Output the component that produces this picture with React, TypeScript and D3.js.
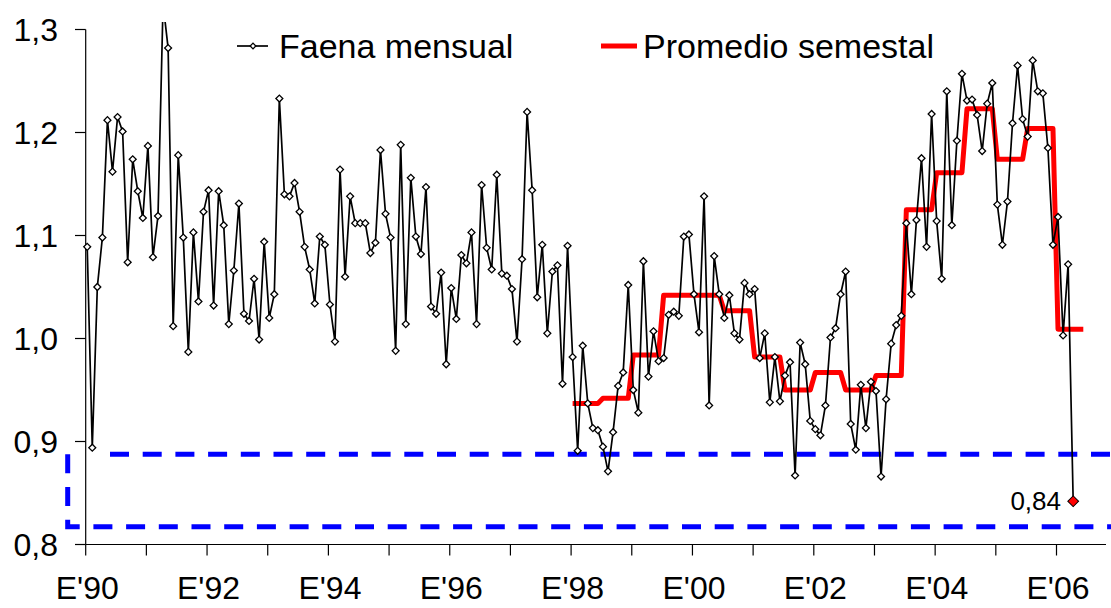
import { useEffect, useRef } from "react";
import * as d3 from "d3";

// Faena mensual (indice), enero 1990 .. abril 2006
const faena: number[] = [
  1.089, 0.894, 1.05, 1.098, 1.212, 1.162, 1.215, 1.201, 1.074, 1.174, 1.143, 1.117,
  1.187, 1.079, 1.119, 1.325, 1.282, 1.012, 1.178, 1.098, 0.987, 1.103, 1.036, 1.123,
  1.144, 1.032, 1.143, 1.11, 1.014, 1.066, 1.131, 1.024, 1.017, 1.058, 0.999, 1.094,
  1.02, 1.043, 1.233, 1.14, 1.138, 1.151, 1.123, 1.089, 1.067, 1.034, 1.099, 1.091,
  1.033, 0.997, 1.164, 1.06, 1.138, 1.112, 1.112, 1.112, 1.083, 1.093, 1.183, 1.121,
  1.098, 0.988, 1.188, 1.014, 1.156, 1.099, 1.082, 1.147, 1.031, 1.024, 1.064, 0.975,
  1.049, 1.019, 1.081, 1.073, 1.103, 1.014, 1.149, 1.088, 1.067, 1.159, 1.063, 1.061,
  1.048, 0.997, 1.077, 1.22, 1.144, 1.04, 1.091, 1.005, 1.065, 1.071, 0.956, 1.09,
  0.982, 0.891, 0.993, 0.937, 0.913, 0.911, 0.895, 0.871, 0.909, 0.954, 0.967, 1.052,
  0.95, 0.928, 1.075, 0.963, 1.007, 0.978, 0.981, 1.023, 1.026, 1.022, 1.099, 1.101,
  1.043, 1.006, 1.138, 0.935, 1.08, 1.043, 1.02, 1.042, 1.005, 0.999, 1.054, 1.043,
  1.048, 0.981, 1.005, 0.938, 0.982, 0.939, 0.964, 0.977, 0.867, 0.996, 0.975, 0.92,
  0.912, 0.906, 0.935, 1.001, 1.01, 1.043, 1.065, 0.917, 0.892, 0.955, 0.913, 0.958,
  0.949, 0.866, 0.941, 0.995, 1.013, 1.022, 1.112, 1.043, 1.115, 1.175, 1.089, 1.218,
  1.114, 1.058, 1.24, 1.11, 1.192, 1.257, 1.231, 1.232, 1.217, 1.182, 1.228, 1.248,
  1.13, 1.091, 1.133, 1.209, 1.265, 1.213, 1.196, 1.27, 1.24, 1.238, 1.185, 1.091,
  1.118, 1.003, 1.072, 0.842,
];

// Promedio semestral, desde 1er semestre 1998 (mes 96)
const semStart = 96;
const semestral: number[] = [
  0.937, 0.942, 0.984, 1.042, 1.042, 1.027, 0.982, 0.95, 0.967, 0.95, 0.964,
  1.125, 1.161, 1.223, 1.174, 1.204, 1.009,
];

const yTicks = [0.8, 0.9, 1.0, 1.1, 1.2, 1.3];
const xLabels = ["E'90", "E'92", "E'94", "E'96", "E'98", "E'00", "E'02", "E'04", "E'06"];

const W = 1111;
const H = 608;
const FONT = "'Liberation Sans', Arial, sans-serif";

export default function App() {
  const svgRef = useRef<SVGSVGElement | null>(null);

  useEffect(() => {
    if (!svgRef.current) return;
    const svg = d3.select(svgRef.current);
    svg.selectAll("*").remove();

    const x = d3.scaleLinear().domain([0, 192]).range([85.7, 1056.5]);
    const y = d3.scaleLinear().domain([0.8, 1.3]).range([544.5, 29.5]);
    const px = (i: number) => x(i + 0.3);

    svg.append("rect").attr("width", W).attr("height", H).attr("fill", "#fff");

    svg.append("defs").append("clipPath").attr("id", "plotClip")
      .append("rect").attr("x", 80).attr("y", 22).attr("width", W - 80).attr("height", 530);

    // axes
    const axis = svg.append("g").attr("stroke", "#000").attr("stroke-width", 1.2);
    axis.append("line").attr("x1", x(0)).attr("x2", x(0)).attr("y1", y(1.3)).attr("y2", y(0.8));
    axis.append("line").attr("x1", x(0)).attr("x2", 1106).attr("y1", y(0.8)).attr("y2", y(0.8));
    yTicks.forEach((t) => {
      axis.append("line").attr("x1", 75).attr("x2", x(0)).attr("y1", y(t)).attr("y2", y(t));
    });
    d3.range(0, 17).forEach((k) => {
      axis.append("line").attr("x1", x(k * 12)).attr("x2", x(k * 12))
        .attr("y1", y(0.8)).attr("y2", y(0.8) + 11);
    });

    svg.append("g").selectAll("text").data(yTicks).enter().append("text")
      .attr("x", 58).attr("y", (d) => y(d) + 11.5)
      .attr("text-anchor", "end")
      .style("font", `32px ${FONT}`).style("fill", "#000")
      .text((d) => d3.format(".1f")(d).replace(".", ","));

    svg.append("g").selectAll("text").data(xLabels).enter().append("text")
      .attr("x", (_d, i) => x(i * 24) + 1.5).attr("y", 599)
      .attr("text-anchor", "middle")
      .style("font", `32px ${FONT}`).style("fill", "#000")
      .text((d) => d);

    // dashed box
    const box = svg.append("g").attr("fill", "none").attr("stroke", "#0000ff")
      .attr("stroke-width", 5).attr("stroke-dasharray", "19 13.7");
    box.append("path").attr("d", `M67.7,454.3V526.7H${W + 10}`);
    box.append("path").attr("d", `M110,454.3H${W + 10}`);

    const plot = svg.append("g").attr("clip-path", "url(#plotClip)");

    // semester average, month by month
    const semMonthly = semestral.flatMap((v, s) =>
      d3.range(6).map((m) => ({ i: semStart + s * 6 + m, v }))
    );
    plot.append("path").datum(semMonthly)
      .attr("fill", "none").attr("stroke", "#ff0000").attr("stroke-width", 5)
      .attr("stroke-linejoin", "round")
      .attr("d", d3.line<{ i: number; v: number }>().x((d) => px(d.i)).y((d) => y(d.v)));

    plot.append("path").datum(faena)
      .attr("fill", "none").attr("stroke", "#000").attr("stroke-width", 1.7)
      .attr("d", d3.line<number>().x((_d, i) => px(i)).y((d) => y(d)));

    const diamond = d3.symbol().type(d3.symbolSquare).size(24)();
    plot.selectAll("path.mk").data(faena.slice(0, -1)).enter().append("path")
      .attr("class", "mk")
      .attr("d", diamond)
      .attr("transform", (d, i) => `translate(${px(i)},${y(d)}) rotate(45)`)
      .attr("fill", "#fff").attr("stroke", "#000").attr("stroke-width", 1.3);

    const lastI = faena.length - 1;
    const lastV = faena[lastI];
    svg.append("path")
      .attr("d", d3.symbol().type(d3.symbolSquare).size(58)())
      .attr("transform", `translate(${px(lastI)},${y(lastV)}) rotate(45)`)
      .attr("fill", "#ff0000").attr("stroke", "#000").attr("stroke-width", 1);
    svg.append("text")
      .attr("x", 1061).attr("y", y(lastV) + 9)
      .attr("text-anchor", "end")
      .style("font", `26px ${FONT}`).style("fill", "#000")
      .text(d3.format(".2f")(lastV).replace(".", ","));

    // legend
    const lg = svg.append("g");
    lg.append("line").attr("x1", 237).attr("x2", 268).attr("y1", 46).attr("y2", 46)
      .attr("stroke", "#000").attr("stroke-width", 1.7);
    lg.append("path").attr("d", d3.symbol().type(d3.symbolSquare).size(16)())
      .attr("transform", "translate(253,46) rotate(45)")
      .attr("fill", "#fff").attr("stroke", "#000").attr("stroke-width", 1.3);
    lg.append("text").attr("x", 279).attr("y", 58)
      .style("font", `34px ${FONT}`).text("Faena mensual");
    lg.append("line").attr("x1", 601).attr("x2", 637).attr("y1", 46).attr("y2", 46)
      .attr("stroke", "#ff0000").attr("stroke-width", 5);
    lg.append("text").attr("x", 643).attr("y", 58)
      .style("font", `34px ${FONT}`).text("Promedio semestal");
  }, []);

  return (
    <svg
      ref={svgRef}
      width={W}
      height={H}
      style={{ position: "absolute", left: 0, top: 0, display: "block" }}
    />
  );
}
